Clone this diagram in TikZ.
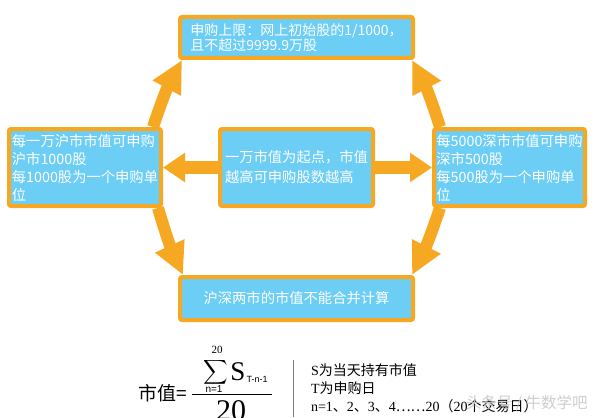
\documentclass[tikz,border=0pt]{standalone}
\usepackage{fontspec}
\setmainfont{Noto Sans CJK SC}
\newfontfamily\serif{Liberation Serif}
\newfontfamily\arial{Liberation Sans}
\usetikzlibrary{arrows.meta}
\definecolor{orng}{HTML}{F7A823}
\definecolor{sky}{HTML}{6CCDF5}
\tikzset{
  infobox/.style={draw=orng, line width=4pt, fill=sky, rounded corners=2pt,
    text=white, font=\fontsize{14.3}{18}\selectfont, align=left, inner sep=0pt},
  fatarrow/.style={draw=orng, line width=12pt, -{Triangle[length=32pt,width=30pt]}},
  sidearrow/.style={draw=orng, line width=13pt, -{Triangle[length=22pt,width=28pt]}},
  plain/.style={inner sep=0pt, outer sep=0pt},
}
\begin{document}
\begin{tikzpicture}[x=1pt,y=-1pt]
\clip (0,0) rectangle (596,417);
\fill[white] (0,0) rectangle (596,417);

% boxes
\node[infobox, minimum width=233pt, minimum height=41pt,
  font=\fontsize{14}{14}\selectfont] (T) at (296.5,37.5)
  {申购上限：网上初始股的1/1000，\\且不超过9999.9万股};
\node[infobox, minimum width=152pt, minimum height=77pt] (L) at (85,167.5)
  {每一万沪市市值可申购\\沪市1000股\\每1000股为一个申购单\\位};
\node[infobox, minimum width=153pt, minimum height=77pt,
  font=\fontsize{14.3}{20}\selectfont] (C) at (296.5,167.5)
  {一万市值为起点，市值\\越高可申购股数越高};
\node[infobox, minimum width=151pt, minimum height=77pt] (R) at (509.5,167.5)
  {每5000深市市值可申购\\深市500股\\每500股为一个申购单\\位};
\node[infobox, minimum width=233pt, minimum height=43pt, align=center] (B) at (296.5,298.5)
  {沪深两市的市值不能合并计算};

% arrows
\draw[sidearrow] (C.west) -- (L.east);
\draw[sidearrow] (C.east) -- (R.west);
\draw[fatarrow] ([xshift=-10pt]L.north east) to[bend left=5] ([xshift=4pt]T.south west);
\draw[fatarrow] ([xshift=8pt]R.north west) to[bend right=5] ([xshift=-3pt]T.south east);
\draw[fatarrow] ([xshift=-5pt]L.south east) to[bend right=4] ([xshift=5pt]B.north west);
\draw[fatarrow] ([xshift=8pt]R.south west) to[bend left=4] ([xshift=-3pt]B.north east);

% formula
\node[plain, font=\fontsize{19}{19}\selectfont] (sz) at (163,393) {市值=};
\node[plain, scale=1.7] (sig) at (216,372.5) {$\displaystyle\sum$};
\node[plain, font=\serif\fontsize{11}{11}\selectfont] (up) at (217,350) {20};
\node[plain, font=\arial\fontsize{10}{10}\selectfont] (lo) at (214,389) {n=1};
\node[plain, font=\serif\fontsize{27}{27}\selectfont] (S) at (238,372) {S};
\node[plain, font=\arial\fontsize{9}{9}\selectfont] (sub) at (257,379) {T-n-1};
\coordinate (fbl) at (192,394);
\coordinate (fbr) at (272,394);
\draw[line width=1pt] (fbl) -- (fbr);
\node[plain, anchor=north, font=\serif\fontsize{30}{30}\selectfont] (den) at (231,401) {20};
\coordinate (vt) at (293,360);
\coordinate (vb) at (293,417);
\draw[gray, line width=0.8pt] (vt) -- (vb);
\node[plain, anchor=north west, align=left, font=\fontsize{14}{18}\selectfont] (exp) at (311,364)
  {{\serif S}为当天持有市值\\{\serif T}为申购日\\{\serif n=1}、{\serif 2}、{\serif 3}、{\serif 4}……{\serif 20}（{\serif 20}个交易日）};
\node[plain, anchor=west, text=gray!45, opacity=0.85, font=\fontsize{15.5}{16}\selectfont] (wm) at (466,403)
  {头条号 / 牛数学吧};
\end{tikzpicture}
\end{document}
